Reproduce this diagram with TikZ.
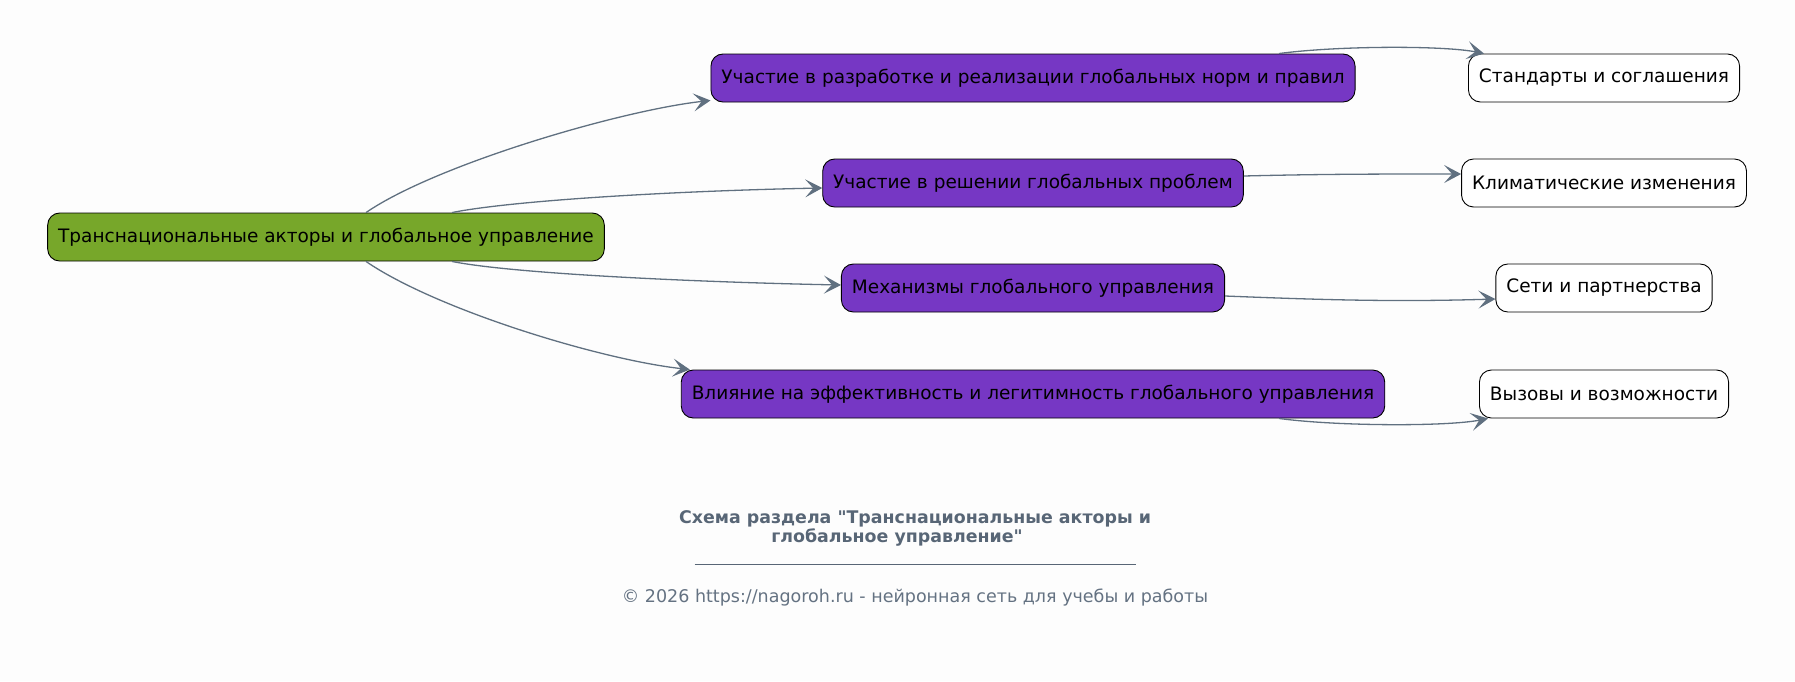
\documentclass[tikz,border=0pt]{standalone}
\usepackage{fontspec}
\setmainfont{DejaVu Sans}
\usetikzlibrary{arrows.meta}
\definecolor{rootgreen}{RGB}{119,167,42}
\definecolor{topicpurple}{RGB}{118,55,196}
\definecolor{edgegray}{RGB}{96,112,128}
\definecolor{titlegray}{RGB}{88,102,118}
\definecolor{notegray}{RGB}{100,114,130}
\definecolor{pagebg}{RGB}{253,253,253}

\begin{document}
\begin{tikzpicture}[x=1pt,y=-1pt,
    box/.style={draw=black, line width=0.9pt, rounded corners=12pt, minimum height=48pt,
      inner xsep=10.5pt, font=\fontsize{18.5pt}{22pt}\selectfont},
    rootbox/.style={box, fill=rootgreen},
    topicbox/.style={box, fill=topicpurple},
    leafbox/.style={box, fill=white},
    link/.style={draw=edgegray, line width=1.3pt, -{Stealth[length=17pt,width=18pt,inset=8pt]}}]

    % Page
    \fill[pagebg] (0,0) rectangle (1795,681);
    \useasboundingbox (0,0) rectangle (1795,681);

    % Root
    \node[rootbox] (root) at (326,237) {Транснациональные акторы и глобальное управление};

    % Topics
    \node[topicbox] (norms) at (1033,78) {Участие в разработке и реализации глобальных норм и правил};
    \node[topicbox] (problems) at (1033,183) {Участие в решении глобальных проблем};
    \node[topicbox] (mechanisms) at (1033,288) {Механизмы глобального управления};
    \node[topicbox] (influence) at (1033,394) {Влияние на эффективность и легитимность глобального управления};

    % Leaves
    \node[leafbox] (standards) at (1604,78) {Стандарты и соглашения};
    \node[leafbox] (climate) at (1604,183) {Климатические изменения};
    \node[leafbox] (networks) at (1604,288) {Сети и партнерства};
    \node[leafbox] (challenges) at (1604,394) {Вызовы и возможности};

    % Root to topics
    \draw[link] ([xshift=40pt]root.north) .. controls +(70,-48) and +(-90,10) .. ([yshift=2pt]norms.south west);
    \draw[link] ([xshift=126pt]root.north) .. controls +(60,-12) and +(-150,3) .. ([yshift=-5pt]problems.west);
    \draw[link] ([xshift=126pt]root.south) .. controls +(60,12) and +(-150,-3) .. ([yshift=3pt]mechanisms.west);
    \draw[link] ([xshift=40pt]root.south) .. controls +(70,48) and +(-90,-10) .. ([xshift=9pt]influence.north west);

    % Topics to leaves
    \draw[link] ([xshift=246pt]norms.north) .. controls +(60,-8) and +(-40,-8) .. ([xshift=16pt]standards.north west);
    \draw[link] ([yshift=7pt]problems.east) .. controls +(80,-2) and +(-80,0) .. ([yshift=9pt]climate.west);
    \draw[link] ([yshift=-8pt]mechanisms.east) .. controls +(100,4) and +(-100,3) .. ([yshift=-11pt]networks.west);
    \draw[link] ([xshift=246pt]influence.south) .. controls +(60,8) and +(-40,8) .. ([xshift=9pt]challenges.south west);

    % Caption
    \node[text=titlegray, align=center, font=\bfseries\fontsize{17.4pt}{19pt}\selectfont] (caption) at (915,528)
      {Схема раздела \textquotedbl Транснациональные акторы и\\глобальное управление\textquotedbl\hspace*{36pt}};
    \node[text=titlegray, inner sep=0pt] (rule) at (915,564) {\rule{441pt}{1pt}};
    \node[text=notegray, font=\fontsize{17.5pt}{20pt}\selectfont] (credit) at (915,598)
      {© 2026 https://nagoroh.ru - нейронная сеть для учебы и работы};

\end{tikzpicture}
\end{document}
